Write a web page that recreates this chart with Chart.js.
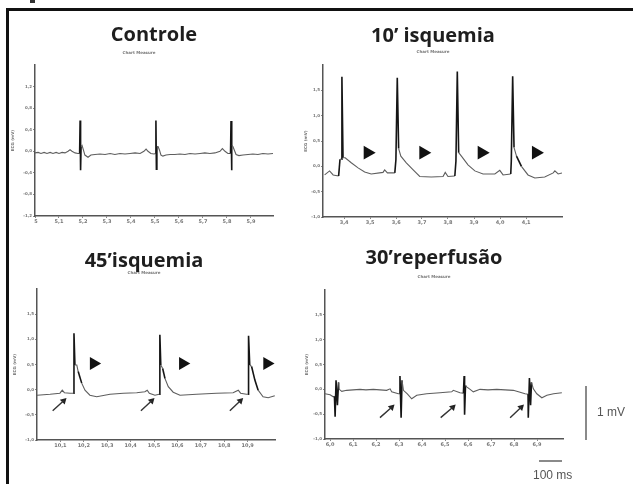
<!DOCTYPE html>
<html lang="pt">
<head>
<meta charset="UTF-8">
<title>ECG - isquemia e reperfusão</title>
<script src="https://cdn.jsdelivr.net/npm/chart.js"></script>
<style>
  body { margin: 0; width: 633px; height: 484px; overflow: hidden; background: #fff; position: relative; font-family: 'Liberation Sans', Arial, sans-serif; }
  canvas { position: absolute; }
  .frame { position: absolute; left: 6px; top: 8px; width: 700px; height: 600px; border-top: 3px solid #111; border-left: 3px solid #111; }
  .mark { position: absolute; left: 30px; top: 0; width: 5px; height: 3px; background: #333; }
  .bar { position: absolute; background: #8a8a8a; }
  .lbl { position: absolute; font-size: 12px; color: #555; white-space: nowrap; }
</style>
</head>
<body>
<div class="mark"></div>
<div class="frame"></div>
<canvas id="c1" width="278" height="216" style="left:5px;top:12px"></canvas>
<canvas id="c2" width="268" height="217" style="left:304px;top:12px"></canvas>
<canvas id="c3" width="272" height="214" style="left:13px;top:238px"></canvas>
<canvas id="c4" width="268" height="213" style="left:305px;top:238px"></canvas>
<!-- barras de escala -->
<div class="bar" style="left:585px;top:386px;width:1.5px;height:54px"></div>
<div class="lbl" style="left:597px;top:405px">1 mV</div>
<div class="bar" style="left:539px;top:460px;width:23px;height:1.5px"></div>
<div class="lbl" style="left:533px;top:468px">100 ms</div>
<script>
// tempo em ms desde o início do eixo, tensão em mV

// Controle
const t1 = [0,13,25,38,50,63,75,88,100,113, 125,138,146,154,167,179,186,188,190,192,
            196,202,208,221,233,250,271,292,313,333, 354,375,396,417,438,454,463,471,483,496,
            503,504,506,508,513,519,525,533,546,563, 583,604,625,646,667,688,708,729,750,771,
            781,792,804,815,817,819,821,825,831,838, 850,867,888,908,929,950,971,992];
const v1 = [-0.03,-0.02,-0.04,-0.02,-0.04,-0.02,-0.04,-0.02,-0.04,-0.02, -0.03,0,0.03,0,-0.03,-0.04,-0.04,0.57,-0.35,0.09,
            0.11,0.02,-0.07,-0.11,-0.07,-0.06,-0.05,-0.06,-0.04,-0.06, -0.04,-0.05,-0.04,-0.03,-0.04,0,0.04,0,-0.04,-0.05,
            -0.04,0.57,-0.33,0.09,0.09,0.02,-0.07,-0.09,-0.07,-0.06, -0.06,-0.05,-0.06,-0.04,-0.05,-0.04,-0.03,-0.04,-0.03,0,
            0.05,0,-0.04,-0.04,0.56,-0.35,0.11,0.09,0.02,-0.06, -0.08,-0.07,-0.06,-0.05,-0.06,-0.04,-0.05,-0.04];
const xt1 = [4,100,200,300,400,500,600,700,800,900];
const xl1 = ['5','5,1','5,2','5,3','5,4','5,5','5,6','5,7','5,8','5,9'];
const yt1 = [-1.2,-0.8,-0.4,0,0.4,0.8,1.2];
const yl1 = ['-1,2','-0,8','-0,4','0,0','0,4','0,8','1,2'];

// 10' isquemia
const t2 = [6,24,37,57,62,68,69,73,81,103, 128,152,176,219,225,235,262,266,271,276,
            284,304,329,353,395,438,446,456,481,485, 490,495,505,529,554,584,627,645,657,685,
            687,692,697,706,724,748,773,809,840,846, 858,872];
const v2 = [-0.17,-0.09,-0.17,-0.19,0.14,0.14,1.77,0.17,0.17,0.07, -0.03,-0.11,-0.15,-0.12,-0.07,-0.13,-0.13,0.13,1.75,0.35,
            0.2,0.07,-0.07,-0.2,-0.21,-0.2,-0.12,-0.2,-0.19,0.1, 1.87,0.27,0.2,0.03,-0.09,-0.15,-0.15,-0.08,-0.17,-0.15,
            0.1,1.78,0.37,0.2,0,-0.17,-0.23,-0.21,-0.13,-0.09, -0.15,-0.13];
const tri2x = [163,366,579,777];
const tri2y = [0.27,0.27,0.27,0.27];
const xt2 = [77,172,267,361,456,551,646,741];
const xl2 = ['3,4','3,5','3,6','3,7','3,8','3,9','4,0','4,1'];

// 45'isquemia
const t3 = [0,56,98,108,117,141,155,158,162,170, 176,191,205,226,255,312,369,426,461,471,
            480,504,522,525,529,537,547,561,582,611, 682,767,838,860,870,895,902,904,909,917,
            931,945,966,988,1016];
const v3 = [-0.11,-0.09,-0.07,-0.01,-0.06,-0.07,-0.07,1.12,0.49,0.49, 0.36,0.13,-0.01,-0.11,-0.14,-0.09,-0.07,-0.06,-0.04,-0.01,
            -0.07,-0.11,-0.09,1.09,0.49,0.42,0.22,0.06,-0.05,-0.11, -0.09,-0.07,-0.06,-0.01,-0.07,-0.09,-0.09,1.07,0.49,0.46,
            0.19,-0.01,-0.14,-0.16,-0.12];
const tri3x = [242,623,983];
const tri3y = [0.52,0.52,0.52];
const arr3tail = [67,444,824];
const arr3tailY = [-0.42,-0.42,-0.42];
const arr3head = [114,490,869];
const arr3headY = [-0.22,-0.22,-0.22];
const xt3 = [100,200,300,400,500,600,700,800,900];
const xl3 = ['10,1','10,2','10,3','10,4','10,5','10,6','10,7','10,8','10,9'];

// 30'reperfusão
const t4 = [0,22,36,41,44,48,54,59,62,73, 94,122,152,178,210,239,268,283,290,319,
            324,326,331,335,341,358,377,399,442,500, 551,558,587,602,605,607,611,616,631,645,
            674,709,747,783,819,841,870,883,884,889, 894,898,906,921,943,965,994,1030];
const v4 = [-0.09,-0.11,-0.15,-0.14,-0.55,0.18,-0.32,0.14,0,-0.04, -0.02,-0.01,0,-0.01,0,-0.01,-0.02,0.01,-0.05,-0.09,
            -0.09,0.27,-0.57,0.18,-0.02,-0.09,-0.19,-0.12,-0.09,-0.07, -0.05,-0.02,-0.07,-0.08,0.27,-0.51,0.08,0.05,0,-0.05,
            0,-0.01,0,-0.01,-0.02,-0.05,-0.09,-0.1,-0.57,0.23, -0.32,0.14,0.01,-0.09,-0.17,-0.12,-0.09,-0.07];
const arr4tail = [239,503,805];
const arr4tailY = [-0.57,-0.57,-0.57];
const arr4head = [290,556,853];
const arr4headY = [-0.36,-0.36,-0.36];
const xt4 = [22,122,222,322,422,522,622,722,822,922];
const xl4 = ['6,0','6,1','6,2','6,3','6,4','6,5','6,6','6,7','6,8','6,9'];

// eixo y dos paineis 2-4
const yt2 = [-1,-0.5,0,0.5,1,1.5];
const yl2 = ['-1,0','-0,5','0,0','0,5','1,0','1,5'];

function pts(xs, ys) {
    return xs.map((x, i) => ({ x: x, y: ys[i] }));
}

function drawPanel(id, p) {
    const datasets = [{
        data: pts(p.t, p.v),
        showLine: true,
        borderColor: '#5e5e5e',
        borderWidth: 1.1,
        pointRadius: 0,
        segment: {
            // complexos QRS mais escuros
            borderColor: c => Math.abs(c.p1.y - c.p0.y) > 10 ? '#151515' : undefined,
            borderWidth: c => Math.abs(c.p1.y - c.p0.y) > 10 ? 1.6 : undefined
        }
    }];
    if (p.triX) {
        datasets.push({
            data: pts(p.triX, p.triY),
            pointStyle: 'triangle', pointRotation: 90, pointRadius: p.triR,
            pointBackgroundColor: '#111', pointBorderWidth: 0, backgroundColor: '#111',
            clip: false
        });
    }
    if (p.aTail) {
        const shaft = [];
        p.aTail.forEach((x, i) => {
            shaft.push({ x: x, y: p.aTailY[i] }, { x: p.aHead[i], y: p.aHeadY[i] }, { x: p.aHead[i], y: null });
        });
        datasets.push({ data: shaft, showLine: true, spanGaps: false, borderColor: '#333', borderWidth: 1.4, pointRadius: 0 });
        datasets.push({
            data: pts(p.aHead, p.aHeadY),
            pointStyle: 'triangle', pointRotation: 45, pointRadius: 4,
            pointBackgroundColor: '#222', pointBorderWidth: 0, backgroundColor: '#222'
        });
    }

    new Chart(document.getElementById(id), {
        type: 'scatter',
        data: { datasets: datasets },
        options: {
            responsive: false,
            animation: false,
            devicePixelRatio: 1,
            layout: { padding: { left: 0, right: 10, top: 0, bottom: 0 } },
            plugins: {
                legend: { display: false },
                tooltip: { enabled: false },
                title: {
                    display: true, text: p.title, fullSize: p.titleFull, color: '#1e1e1e',
                    font: { family: "'Open Sans', 'Noto Sans', sans-serif", size: 20, weight: 'bold', lineHeight: 1 },
                    padding: { top: p.tp[0], bottom: p.tp[1] }
                },
                subtitle: {
                    display: true, text: 'Chart Measure', fullSize: true, color: '#777',
                    font: { family: 'DejaVu Sans', size: 4, weight: 'bold', lineHeight: 1.2 },
                    padding: { top: p.sp[0], bottom: p.sp[1] }
                }
            },
            scales: {
                x: {
                    type: 'linear', min: 0, max: p.xMax,
                    afterFit: s => { s.height = 12; },
                    afterBuildTicks: s => { s.ticks = p.xt.map(v => ({ value: v })); },
                    ticks: { autoSkip: false, maxRotation: 0, padding: 1, color: '#777',
                             font: { family: 'DejaVu Sans', size: 5, weight: 'bold' }, callback: (v, i) => p.xl[i] },
                    grid: { drawOnChartArea: false, tickLength: 2, color: '#888' },
                    border: { color: '#555', width: 1.5 }
                },
                y: {
                    type: 'linear', min: p.yMin, max: p.yMax,
                    afterFit: s => { s.width = p.yW; },
                    afterBuildTicks: s => { s.ticks = p.yt.map(v => ({ value: v })); },
                    ticks: { autoSkip: false, padding: 1, color: '#777',
                             font: { family: 'DejaVu Sans', size: 4, weight: 'bold' }, callback: (v, i) => p.yl[i] },
                    grid: { drawOnChartArea: false, tickLength: 2, color: '#888' },
                    border: { color: '#555', width: 1.5 },
                    title: { display: true, text: 'ECG (mV)', color: '#777',
                             font: { family: 'DejaVu Sans', size: 4, weight: 'bold' }, padding: p.ytPad }
                }
            }
        }
    });
}

drawPanel('c1', {
    title: 'Controle', titleFull: false, tp: [13, 3], sp: [2.6, 9.6],
    t: t1, v: v1, xMax: 992, yMin: -1.2, yMax: 1.6, yW: 30, ytPad: 6,
    xt: xt1, xl: xl1, yt: yt1, yl: yl1
});
drawPanel('c2', {
    title: '10’ isquemia', titleFull: true, tp: [14.5, 1], sp: [2.1, 10.6],
    t: t2, v: v2, xMax: 872, yMin: -1, yMax: 2, yW: 19, ytPad: 0,
    xt: xt2, xl: xl2, yt: yt2, yl: yl2,
    triX: tri2x, triY: tri2y, triR: 8
});
drawPanel('c3', {
    title: '45’isquemia', titleFull: true, tp: [13, 0], sp: [0, 13.2],
    t: t3, v: v3, xMax: 1017, yMin: -1, yMax: 2, yW: 24, ytPad: 0,
    xt: xt3, xl: xl3, yt: yt2, yl: yl2,
    triX: tri3x, triY: tri3y, triR: 7.5,
    aTail: arr3tail, aTailY: arr3tailY, aHead: arr3head, aHeadY: arr3headY
});
drawPanel('c4', {
    title: '30’reperfusão', titleFull: true, tp: [10.5, 3], sp: [2.8, 10.9],
    t: t4, v: v4, xMax: 1035, yMin: -1, yMax: 2, yW: 20, ytPad: 0,
    xt: xt4, xl: xl4, yt: yt2, yl: yl2,
    aTail: arr4tail, aTailY: arr4tailY, aHead: arr4head, aHeadY: arr4headY
});
</script>
</body>
</html>
